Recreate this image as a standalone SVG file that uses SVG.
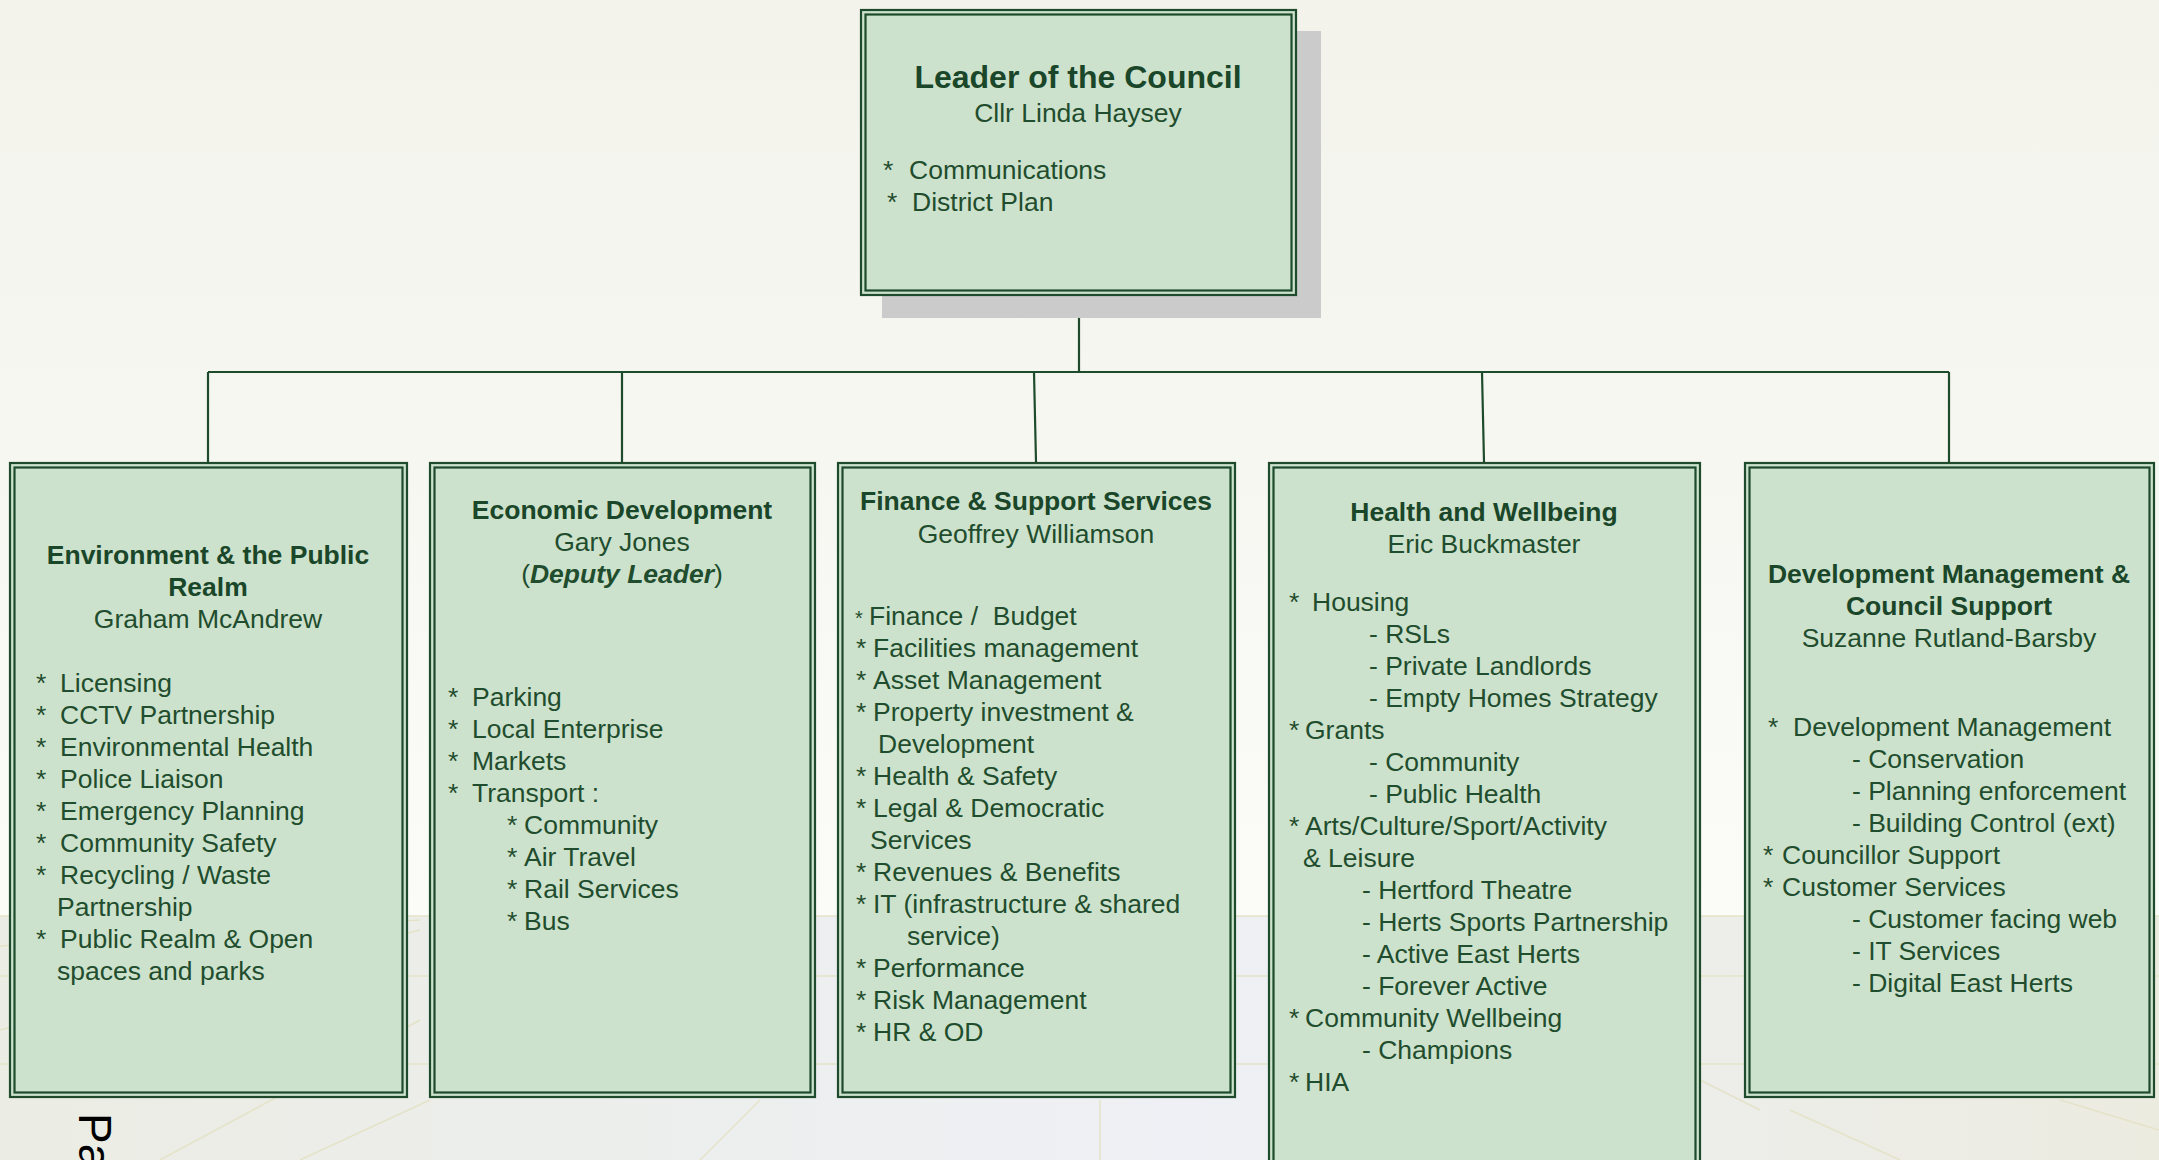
<svg xmlns="http://www.w3.org/2000/svg" width="2159" height="1160" viewBox="0 0 2159 1160">
<defs>
<linearGradient id="bgTop" x1="0" y1="0" x2="0" y2="1">
<stop offset="0" stop-color="#f3f3ec"/>
<stop offset="1" stop-color="#fbfbf8"/>
</linearGradient>
<linearGradient id="bgBot" x1="0" y1="0" x2="1" y2="0">
<stop offset="0" stop-color="#ebece3"/>
<stop offset="0.55" stop-color="#eef0f5"/>
<stop offset="1" stop-color="#ecebe0"/>
</linearGradient>
<style>
.box{fill:#cde2cc;stroke:#1d4b2b;stroke-width:2.2}
.inner{fill:none;stroke:#1d4b2b;stroke-width:2.2}
.conn{stroke:#1d4b2b;stroke-width:2.2;fill:none}
text{font-family:"Liberation Sans",Arial,sans-serif;font-size:26.5px;fill:#1f4d2e}
.t{font-weight:bold;text-anchor:middle;fill:#1a4629}
.n{text-anchor:middle}
.bgl{stroke:#e4e3c8;stroke-width:1.5;fill:none}
</style>
</defs>

<rect x="0" y="0" width="2159" height="916" fill="url(#bgTop)"/>
<rect x="0" y="916" width="2159" height="244" fill="url(#bgBot)"/>
<g id="bg-lines">
<line class="bgl" x1="0" y1="916" x2="2159" y2="916"/>
<line class="bgl" x1="0" y1="976" x2="2159" y2="976"/>
<line class="bgl" x1="0" y1="1064" x2="2159" y2="1064"/>
<line class="bgl" x1="0" y1="946" x2="420" y2="920"/>
<line class="bgl" x1="0" y1="1030" x2="420" y2="930"/>
<line class="bgl" x1="160" y1="1160" x2="420" y2="1020"/>
<line class="bgl" x1="300" y1="1160" x2="430" y2="1100"/>
<line class="bgl" x1="700" y1="1160" x2="760" y2="1100"/>
<line class="bgl" x1="1100" y1="1100" x2="1100" y2="1160"/>
<line class="bgl" x1="1700" y1="1080" x2="1760" y2="1110"/>
<line class="bgl" x1="1790" y1="1110" x2="1900" y2="1160"/>
<line class="bgl" x1="2060" y1="1100" x2="2159" y2="1130"/>
</g>

<g id="connectors">
<line class="conn" x1="1079" y1="296" x2="1079" y2="372"/>
<line class="conn" x1="208" y1="372" x2="1949" y2="372"/>
<line class="conn" x1="208" y1="372" x2="208" y2="462"/>
<line class="conn" x1="622" y1="372" x2="622" y2="462"/>
<line class="conn" x1="1034" y1="372" x2="1036" y2="462"/>
<line class="conn" x1="1482" y1="372" x2="1484" y2="462"/>
<line class="conn" x1="1949" y1="372" x2="1949" y2="462"/>
</g>

<g id="leader">
<rect x="882" y="31" width="439" height="287" fill="#cbcbcb"/>
<rect class="box" x="861" y="10" width="435" height="285"/>
<rect class="inner" x="865.5" y="14.5" width="426" height="276"/>
<text class="t" x="1078" y="88" style="font-size:32px">Leader of the Council</text>
<text class="n" x="1078" y="122">Cllr Linda Haysey</text>
<text x="883" y="179">*</text><text x="909" y="179">Communications</text>
<text x="887" y="211">*</text><text x="912" y="211">District Plan</text>
</g>

<g id="environment">
<rect class="box" x="10" y="463" width="397" height="634"/>
<rect class="inner" x="14.5" y="467.5" width="388" height="625"/>
<text class="t" x="208" y="564">Environment &amp; the Public</text>
<text class="t" x="208" y="596">Realm</text>
<text class="n" x="208" y="628">Graham McAndrew</text>
<g>
<text x="36" y="692">*</text><text x="60" y="692">Licensing</text>
<text x="36" y="724">*</text><text x="60" y="724">CCTV Partnership</text>
<text x="36" y="756">*</text><text x="60" y="756">Environmental Health</text>
<text x="36" y="788">*</text><text x="60" y="788">Police Liaison</text>
<text x="36" y="820">*</text><text x="60" y="820">Emergency Planning</text>
<text x="36" y="852">*</text><text x="60" y="852">Community Safety</text>
<text x="36" y="884">*</text><text x="60" y="884">Recycling / Waste</text>
<text x="57" y="916">Partnership</text>
<text x="36" y="948">*</text><text x="60" y="948">Public Realm &amp; Open</text>
<text x="57" y="980">spaces and parks</text>
</g>
</g>

<g id="economic">
<rect class="box" x="430" y="463" width="385" height="634"/>
<rect class="inner" x="434.5" y="467.5" width="376" height="625"/>
<text class="t" x="622" y="519">Economic Development</text>
<text class="n" x="622" y="551">Gary Jones</text>
<text class="n" x="622" y="583">(<tspan font-weight="bold" font-style="italic">Deputy Leader</tspan>)</text>
<text x="448" y="706">*</text><text x="472" y="706">Parking</text>
<text x="448" y="738">*</text><text x="472" y="738">Local Enterprise</text>
<text x="448" y="770">*</text><text x="472" y="770">Markets</text>
<text x="448" y="802">*</text><text x="472" y="802">Transport :</text>
<text x="507" y="834">*</text><text x="524" y="834">Community</text>
<text x="507" y="866">*</text><text x="524" y="866">Air Travel</text>
<text x="507" y="898">*</text><text x="524" y="898">Rail Services</text>
<text x="507" y="930">*</text><text x="524" y="930">Bus</text>
</g>

<g id="finance">
<rect class="box" x="838" y="463" width="397" height="634"/>
<rect class="inner" x="842.5" y="467.5" width="388" height="625"/>
<text class="t" x="1036" y="510">Finance &amp; Support Services</text>
<text class="n" x="1036" y="543">Geoffrey Williamson</text>
<text x="855" y="625" style="font-size:20px">*</text><text x="869" y="625">Finance /&#160; Budget</text>
<text x="856" y="657">*</text><text x="873" y="657">Facilities management</text>
<text x="856" y="689">*</text><text x="873" y="689">Asset Management</text>
<text x="856" y="721">*</text><text x="873" y="721">Property investment &amp;</text>
<text x="878" y="753">Development</text>
<text x="856" y="785">*</text><text x="873" y="785">Health &amp; Safety</text>
<text x="856" y="817">*</text><text x="873" y="817">Legal &amp; Democratic</text>
<text x="870" y="849">Services</text>
<text x="856" y="881">*</text><text x="873" y="881">Revenues &amp; Benefits</text>
<text x="856" y="913">*</text><text x="873" y="913">IT (infrastructure &amp; shared</text>
<text x="907" y="945">service)</text>
<text x="856" y="977">*</text><text x="873" y="977">Performance</text>
<text x="856" y="1009">*</text><text x="873" y="1009">Risk Management</text>
<text x="856" y="1041">*</text><text x="873" y="1041">HR &amp; OD</text>
</g>

<g id="health">
<rect class="box" x="1269" y="463" width="431" height="720"/>
<rect class="inner" x="1273.5" y="467.5" width="422" height="711"/>
<text class="t" x="1484" y="521">Health and Wellbeing</text>
<text class="n" x="1484" y="553">Eric Buckmaster</text>
<text x="1289" y="611">*</text><text x="1312" y="611">Housing</text>
<text x="1369" y="643">- RSLs</text>
<text x="1369" y="675">- Private Landlords</text>
<text x="1369" y="707">- Empty Homes Strategy</text>
<text x="1289" y="739">*</text><text x="1305" y="739">Grants</text>
<text x="1369" y="771">- Community</text>
<text x="1369" y="803">- Public Health</text>
<text x="1289" y="835">*</text><text x="1305" y="835">Arts/Culture/Sport/Activity</text>
<text x="1303" y="867">&amp; Leisure</text>
<text x="1362" y="899">- Hertford Theatre</text>
<text x="1362" y="931">- Herts Sports Partnership</text>
<text x="1362" y="963">- Active East Herts</text>
<text x="1362" y="995">- Forever Active</text>
<text x="1289" y="1027">*</text><text x="1305" y="1027">Community Wellbeing</text>
<text x="1362" y="1059">- Champions</text>
<text x="1289" y="1091">*</text><text x="1305" y="1091">HIA</text>
</g>

<g id="development">
<rect class="box" x="1745" y="463" width="409" height="634"/>
<rect class="inner" x="1749.5" y="467.5" width="400" height="625"/>
<text class="t" x="1949" y="583">Development Management &amp;</text>
<text class="t" x="1949" y="615">Council Support</text>
<text class="n" x="1949" y="647">Suzanne Rutland-Barsby</text>
<text x="1768" y="736">*</text><text x="1793" y="736">Development Management</text>
<text x="1852" y="768">- Conservation</text>
<text x="1852" y="800">- Planning enforcement</text>
<text x="1852" y="832">- Building Control (ext)</text>
<text x="1763" y="864">*</text><text x="1782" y="864">Councillor Support</text>
<text x="1763" y="896">*</text><text x="1782" y="896">Customer Services</text>
<text x="1852" y="928">- Customer facing web</text>
<text x="1852" y="960">- IT Services</text>
<text x="1852" y="992">- Digital East Herts</text>
</g>

<text x="79" y="1113" transform="rotate(90 79 1113)" style="font-size:46px;fill:#000">Pa</text>
</svg>
